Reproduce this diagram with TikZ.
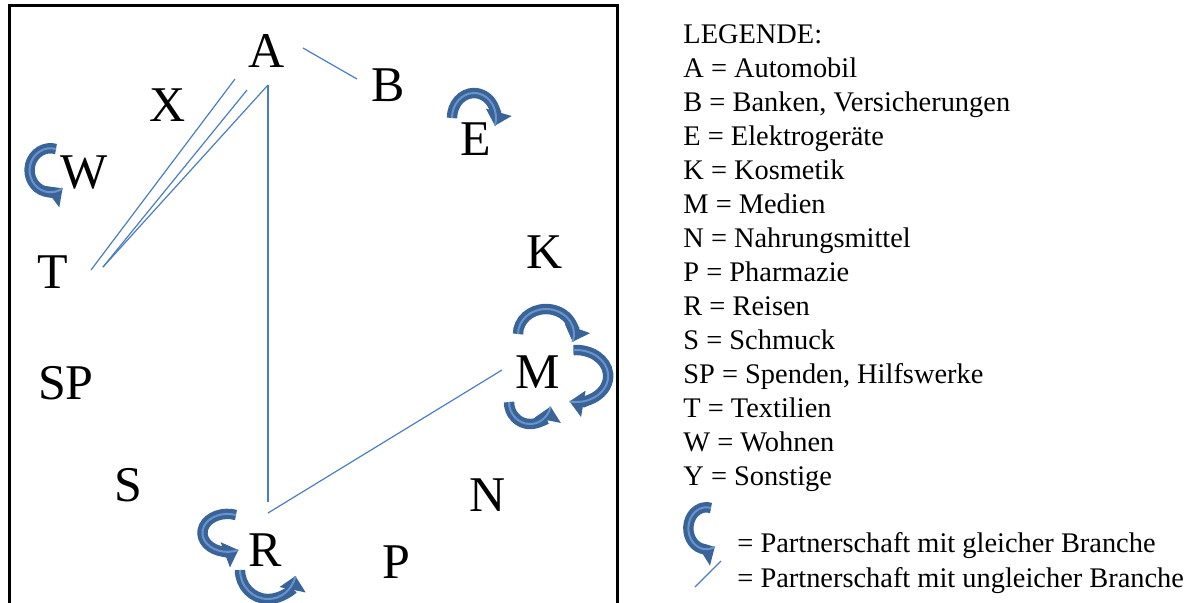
\documentclass[tikz,border=0pt]{standalone}
\usepackage{fontspec}
\setmainfont{Liberation Serif}
\usetikzlibrary{arrows.meta, calc}

\definecolor{linkblue}{RGB}{74,126,193}
\definecolor{loopblue}{RGB}{58,100,152}
\definecolor{loophigh}{RGB}{104,148,206}

\begin{document}
\begin{tikzpicture}[x=0.5pt, y=0.5pt,
    branch/.style={font=\fontsize{25}{30}\selectfont, inner sep=0pt},
    legendtext/.style={font=\fontsize{14.2}{17}\selectfont, anchor=base west, inner sep=0pt},
    crosslink/.style={draw=linkblue, line width=0.6pt},
    samearrow/.style={draw=loopblue, line width=5.2pt, -{Triangle[length=7pt,width=13pt]},
        postaction={draw=loophigh, line width=1pt, -}}]
    \useasboundingbox (0,0) rectangle (1194,-602);

    \draw[line width=1.5pt] (9,-640) -- (9,-5) -- (617,-5) -- (617,-640);

    \node[branch] (A) at (267,-51) {A};
    \node[branch] (B) at (388,-85) {B};
    \node[branch] (X) at (168,-105) {X};
    \node[branch] (E) at (476,-139) {E};
    \node[branch] (W) at (84,-172) {W};
    \node[branch] (T) at (53,-272) {T};
    \node[branch] (K) at (545,-252) {K};
    \node[branch] (M) at (538,-372) {M};
    \node[branch] (SP) at (66,-383) {SP};
    \node[branch] (S) at (128,-485) {S};
    \node[branch] (N) at (488,-495) {N};
    \node[branch] (R) at (265,-550) {R};
    \node[branch] (P) at (396,-562) {P};

    \draw[crosslink] ($(A)+(36,3)$) -- ($(B)+(-31,6)$);
    \draw[crosslink] ($(A)+(-32,-28)$) -- ($(T)+(38,2)$);
    \draw[crosslink] ($(A)+(-20,-39)$) -- ($(T)+(50,5)$);
    \draw[crosslink] ($(A)+(1,-34)$) -- ($(T)+(50,5)$);
    \draw[crosslink] ($(A)+(1,-34)$) -- ($(R)+(3,48)$);
    \draw[crosslink] ($(R)+(3,37)$) -- ($(M)+(-36,2)$);

    \draw[samearrow] (56,-149) arc[start angle=75, end angle=305, x radius=21, y radius=22];
    \draw[samearrow] (452,-118) arc[start angle=180, end angle=-18, x radius=22, y radius=25];
    \draw[samearrow] (518,-334) arc[start angle=180, end angle=-18, x radius=28, y radius=25];
    \draw[samearrow] (573.4,-350.1) arc[start angle=95, end angle=-102, x radius=32, y radius=26];
    \draw[samearrow] (509,-402) arc[start angle=180, end angle=348, x radius=21, y radius=22];
    \draw[samearrow] (236,-515) arc[start angle=70, end angle=296, x radius=25, y radius=19];
    \draw[samearrow] (240,-570) arc[start angle=180, end angle=348, x radius=28, y radius=29];

    \foreach \entry [count=\i from 0] in {LEGENDE:, A = Automobil, {B = Banken, Versicherungen},
        E = Elektrogeräte, K = Kosmetik, M = Medien, N = Nahrungsmittel, P = Pharmazie,
        R = Reisen, S = Schmuck, {SP = Spenden, Hilfswerke}, T = Textilien, W = Wohnen, Y = Sonstige}
        \node[legendtext] (leg\i) at (683,{-43-34*\i}) {\entry};

    \node[legendtext] (legsame) at (737,-552) {= Partnerschaft mit gleicher Branche};
    \node[legendtext] (legdiff) at (737,-587) {= Partnerschaft mit ungleicher Branche};

    \draw[samearrow] (711,-508) arc[start angle=75, end angle=298, x radius=18, y radius=21];
    \draw[crosslink] ($(legdiff.base west)+(-42,0)$) -- ($(legdiff.base west)+(-16,26)$);
\end{tikzpicture}
\end{document}
